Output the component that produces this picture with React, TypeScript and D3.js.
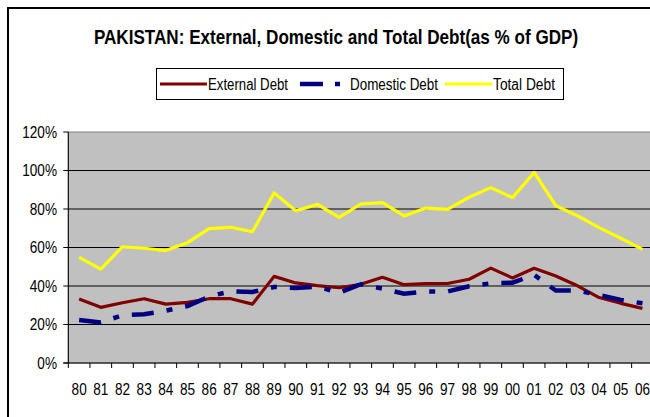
import React from "react";
import * as d3 from "d3";

const years = ["80","81","82","83","84","85","86","87","88","89","90","91","92","93","94","95","96","97","98","99","00","01","02","03","04","05","06"];
const externalDebt = [33.2,28.9,31.3,33.4,30.6,31.5,33.4,33.4,30.6,45.0,41.6,40.2,39.1,40.9,44.5,40.7,41.2,41.3,43.5,49.3,44.2,49.2,45.2,40.1,34.0,31.0,28.4];
const domesticDebt = [22.3,21.1,24.8,25.3,27.2,29.6,34.5,37.3,36.9,39.5,39.0,39.7,36.5,40.9,38.6,36.0,37.2,37.1,39.9,41.4,41.7,45.8,37.6,37.6,35.3,32.8,31.0];
const totalDebt = [54.9,48.8,60.4,59.6,58.4,62.5,69.8,70.5,68.2,88.3,79.1,82.4,75.7,82.6,83.3,76.4,80.5,79.8,86.1,91.1,85.9,99.0,81.7,76.5,70.3,64.8,59.0];
const yTicks = [0,20,40,60,80,100,120];
const title = "PAKISTAN: External, Domestic and Total Debt(as % of GDP)";
const seriesNames = ["External Debt","Domestic Debt","Total Debt"];

const FONT = "'Liberation Sans', Arial, sans-serif";

export default function App() {
  const left = 68.3, right = 653.3, top = 132, bottom = 363;
  const x = d3.scaleBand<string>().domain(years).range([left, right]).padding(0);
  const y = d3.scaleLinear().domain([0, 120]).range([bottom, top]);
  const cx = (i: number) => (x(years[i]) as number) + x.bandwidth() / 2;
  const line = d3.line<number>().x((_, i) => cx(i)).y((d) => y(d));

  const boundaries = d3.range(years.length + 1).map((i) => left + i * x.bandwidth());

  return (
    <svg width={650} height={417} style={{ position: "absolute", left: 0, top: 0, background: "#fff" }} fontFamily={FONT}>
      <rect x={0} y={0} width={650} height={417} fill="#fff" />
      <rect x={8} y={8} width={700} height={500} fill="#fff" stroke="#000" strokeWidth={2} />
      <text transform="translate(336,44) scale(0.855,1)" textAnchor="middle" fontSize={20} fontWeight="bold">{title}</text>

      {/* legend */}
      <rect x={156.5} y={68.5} width={407} height={31} fill="#fff" stroke="#000" strokeWidth={1} />
      <line x1={160} x2={207} y1={84} y2={84} stroke="#800000" strokeWidth={3} />
      <text x={208} y={90} fontSize={16} textLength={80} lengthAdjust="spacingAndGlyphs">{seriesNames[0]}</text>
      <line x1={300} x2={340} y1={84} y2={84} stroke="#000080" strokeWidth={4.5} strokeDasharray="23 12 5 12" />
      <text x={350} y={90} fontSize={16} textLength={88} lengthAdjust="spacingAndGlyphs">{seriesNames[1]}</text>
      <line x1={445} x2={492} y1={84} y2={84} stroke="#FFFF00" strokeWidth={3} />
      <text x={493} y={90} fontSize={16} textLength={62} lengthAdjust="spacingAndGlyphs">{seriesNames[2]}</text>

      {/* plot area */}
      <rect x={left} y={top} width={right - left} height={bottom - top} fill="#C0C0C0" stroke="#808080" strokeWidth={1} />
      {yTicks.filter((t) => t > 0 && t < 120).map((t) => (
        <line key={t} x1={left} x2={right} y1={y(t)} y2={y(t)} stroke="#000" strokeWidth={1} />
      ))}
      <line x1={left} x2={left} y1={top} y2={bottom} stroke="#000" strokeWidth={1} />
      <line x1={left - 5} x2={right} y1={bottom} y2={bottom} stroke="#000" strokeWidth={1} />
      {yTicks.map((t) => (
        <g key={t}>
          <line x1={left - 5} x2={left} y1={y(t)} y2={y(t)} stroke="#000" strokeWidth={1} />
          <text transform={`translate(57,${y(t) + 5.5}) scale(0.85,1)`} textAnchor="end" fontSize={16}>{t + "%"}</text>
        </g>
      ))}
      {boundaries.map((b, i) => (
        <line key={i} x1={b} x2={b} y1={bottom} y2={bottom + 5} stroke="#000" strokeWidth={1} />
      ))}
      {years.map((yr, i) => (
        <text key={yr} transform={`translate(${cx(i)},394.5) scale(0.85,1)`} textAnchor="middle" fontSize={16}>{yr}</text>
      ))}

      <path d={line(externalDebt) || ""} fill="none" stroke="#800000" strokeWidth={3.2} strokeLinejoin="round" />
      <path d={line(domesticDebt) || ""} fill="none" stroke="#000080" strokeWidth={4.5} strokeDasharray="22 13 6 13" strokeLinecap="butt" />
      <path d={line(totalDebt) || ""} fill="none" stroke="#FFFF00" strokeWidth={3.2} strokeLinejoin="round" />
    </svg>
  );
}
